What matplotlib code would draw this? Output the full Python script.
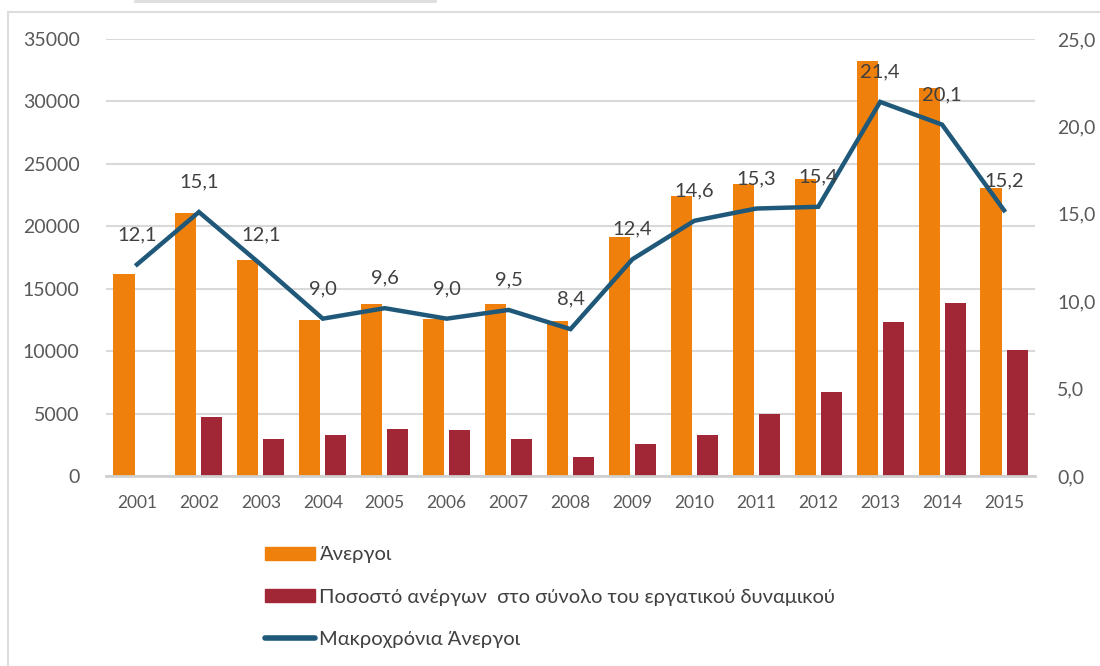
import numpy as np
from matplotlib import pyplot as plt
from matplotlib.patches import Patch, Rectangle
from matplotlib.lines import Line2D

plt.rcParams['font.family'] = ['Lato', 'DejaVu Sans']

years = ['2001', '2002', '2003', '2004', '2005', '2006', '2007', '2008',
         '2009', '2010', '2011', '2012', '2013', '2014', '2015']
unemployed = [16200, 21100, 17300, 12500, 13750, 12550, 13750, 12400,
              19100, 22400, 23400, 23750, 33200, 31050, 23100]
share_of_workforce = [0, 4750, 2950, 3250, 3750, 3650, 2950, 1550,
                      2550, 3250, 4950, 6750, 12350, 13850, 10100]
long_term = [12.1, 15.1, 12.1, 9.0, 9.6, 9.0, 9.5, 8.4,
             12.4, 14.6, 15.3, 15.4, 21.4, 20.1, 15.2]

c_orange = '#EF800B'
c_red = '#A12737'
c_line = '#1F5879'
c_tick = '#595959'
c_grid = '#D9D9D9'

fig = plt.figure(figsize=(11, 6.66), dpi=100)
ax = fig.add_axes([0.0964, 0.2853, 0.8445, 0.6562])
ax2 = ax.twinx()

x = np.arange(len(years))
w = 0.34
ax.bar(x - 0.21, unemployed, w, color=c_orange, zorder=2)
ax.bar(x + 0.21, share_of_workforce, w, color=c_red, zorder=2)

ax.set_ylim(0, 35000)
ax.set_yticks(np.arange(0, 35001, 5000))
ax.set_xlim(-0.5, 14.5)
ax.set_xticks(x)
ax.set_xticklabels(years)
ax.grid(axis='y', color=c_grid, linewidth=1.5, zorder=0)
ax.set_axisbelow(True)

ax2.plot(x, long_term, color=c_line, linewidth=3.2, solid_joinstyle='miter', zorder=3)
ax2.set_ylim(0, 25)
ax2.set_yticks(np.arange(0, 25.1, 5))
ax2.set_yticklabels([('%.1f' % v).replace('.', ',') for v in np.arange(0, 25.1, 5)])
for xi, v in zip(x, long_term):
    ax2.annotate(('%.1f' % v).replace('.', ','), (xi, v), xytext=(0, 21.5),
                 textcoords='offset points', ha='center', va='center',
                 fontsize=14.5, color='#404040', zorder=4)

for a in (ax, ax2):
    for s in ('top', 'left', 'right'):
        a.spines[s].set_visible(False)
    a.spines['bottom'].set_color('#D0D0D0')
    a.spines['bottom'].set_linewidth(2)
    a.tick_params(length=0, colors=c_tick)
ax.tick_params(axis='y', labelsize=14, pad=19)
ax.tick_params(axis='x', labelsize=12.5, pad=14)
ax2.tick_params(axis='y', labelsize=14, pad=16)
ax2.spines['bottom'].set_visible(False)

handles = [Patch(color=c_orange), Patch(color=c_red),
           Line2D([], [], color=c_line, linewidth=4, solid_capstyle='round')]
labels = ['Άνεργοι', 'Ποσοστό ανέργων  στο σύνολο του εργατικού δυναμικού',
          'Μακροχρόνια Άνεργοι']
fig.legend(handles, labels, loc='upper left', bbox_to_anchor=(0.241, 0.1795),
           frameon=False, fontsize=14.5, borderpad=0, borderaxespad=0,
           handlelength=2.5, handleheight=0.6, handletextpad=0.2,
           labelspacing=1.25, labelcolor='#404040')

# outer frame and the cut-off bar at the top
fig.patches.append(Rectangle((8 / 1100, -0.05), 1.2, 1 - 12 / 666 + 0.05,
                             transform=fig.transFigure, fill=False,
                             edgecolor='#DDDDDD', linewidth=1.5))
fig.add_artist(Line2D([135 / 1100, 435 / 1100], [0.998, 0.998],
                      transform=fig.transFigure, color='#DDDDDD', linewidth=2))

fig.savefig('out.png', dpi=100)
